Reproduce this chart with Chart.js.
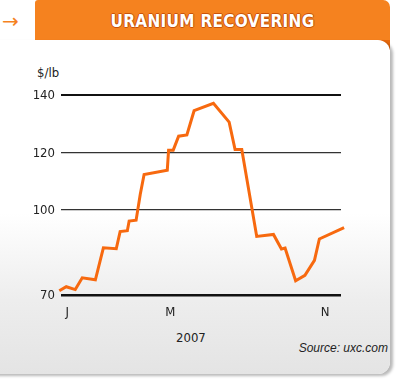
<!DOCTYPE html>
<html>
<head>
<meta charset="utf-8">
<script src="https://cdn.jsdelivr.net/npm/chart.js@4"></script>
<style>
  html, body { margin: 0; padding: 0; background: #fff; }
  #wrap { position: relative; width: 400px; height: 387px; overflow: hidden; }
  /* orange tab behind the panel */
  #tab {
    position: absolute; left: 35px; top: 0; width: 355px; height: 50px;
    background: #f5821f; border-radius: 3px 7px 0 0;
    box-shadow: inset 0 -10px 0 #e8690c;
  }
  #panel {
    position: absolute; left: -12px; top: 40px; width: 402px; height: 334px;
    border-radius: 0 12px 12px 0;
    background: linear-gradient(#ffffff 0%, #ffffff 52%, #ededed 78%, #e4e4e4 100%);
    box-shadow: 3px 2px 3px rgba(0,0,0,0.28);
  }
  #title {
    position: absolute; left: 35px; width: 355px; top: 11px; text-align: center;
    font: bold 17px "DejaVu Sans Condensed", "DejaVu Sans", sans-serif;
    color: #fff; letter-spacing: 0.3px;
    text-shadow: 1px 0 0 #c95209, -1px 0 0 #c95209, 0 1px 0 #c95209, 0 -1px 0 #c95209;
  }
  #arrow {
    position: absolute; left: 2px; top: 9px; color: #f5821f;
    font: 20px "DejaVu Sans", sans-serif;
  }
  .lbl { position: absolute; font: 13px "DejaVu Sans Condensed", "DejaVu Sans", sans-serif; color: #222; }
  #source {
    position: absolute; right: 12px; top: 341px;
    font: italic 12px "Liberation Sans", Arial, sans-serif; color: #222;
  }
  canvas { position: absolute; left: 0; top: 0; }
</style>
</head>
<body>
<div id="wrap">
  <div id="tab"></div>
  <div id="panel"></div>
  <div id="arrow">→</div>
  <div id="title">URANIUM RECOVERING</div>
  <div class="lbl" style="left:37px; top:65px;">$/lb</div>
  <div class="lbl" style="left:176px; top:330px;">2007</div>
  <div id="source">Source: uxc.com</div>
  <canvas id="chart" width="400" height="387"></canvas>
</div>
<script>
"use strict";

// data: x is the month (J = 1 ... N = 11), y is $/lb
const months = [0.69, 0.96, 1.31, 1.58, 2.09, 2.40, 2.90, 3.05, 3.33, 3.40, 3.67,
  3.83, 3.98, 4.88, 4.93, 5.11, 5.32, 5.64, 5.92, 6.67, 7.28, 7.51, 7.77,
  8.35, 9.00, 9.31, 9.45, 9.86, 10.22, 10.59, 10.78, 11.74];
const prices = [71.5, 72.9, 71.9, 76.0, 75.3, 86.5, 86.2, 92.2, 92.5, 95.9, 96.2,
  105.2, 112.2, 113.7, 120.7, 120.7, 125.6, 126.0, 134.5, 137.1, 130.5, 120.9, 120.9,
  90.5, 91.2, 86.1, 86.4, 75.0, 76.9, 82.1, 89.6, 93.6];

// axis ticks
const yTicks = [70, 100, 120, 140];
const xTicks = [1, 5, 11];
const xTickLabels = ["J", "M", "N"];

const tickFont = { family: "'DejaVu Sans Condensed', 'DejaVu Sans', sans-serif", size: 13 };

// pair months with prices for the line
const points = months.map((m, i) => ({ x: m, y: prices[i] }));

new Chart(document.getElementById("chart"), {
  type: "line",
  data: {
    datasets: [{
      data: points,
      borderColor: "#f7690f",
      borderWidth: 3,
      pointRadius: 0,
      tension: 0,
      clip: false
    }]
  },
  options: {
    responsive: false,
    animation: false,
    devicePixelRatio: 1,
    layout: { padding: { top: 95, right: 59, bottom: 52, left: 0 } },
    plugins: { legend: { display: false }, tooltip: { enabled: false } },
    scales: {
      x: {
        type: "linear",
        min: 0.756,
        max: 11.62,
        grid: { display: false, drawTicks: false },
        border: { display: false },
        afterBuildTicks: (axis) => { axis.ticks = xTicks.map(v => ({ value: v })); },
        afterFit: (axis) => { axis.height = 40; },
        ticks: {
          autoSkip: false,
          maxRotation: 0,
          padding: 10,
          color: "#222",
          font: tickFont,
          callback: (v) => xTickLabels[xTicks.indexOf(v)]
        }
      },
      y: {
        min: 70,
        max: 140,
        border: { display: false },
        grid: {
          drawTicks: false,
          color: (ctx) => (ctx.tick && (ctx.tick.value === 140 || ctx.tick.value === 70)) ? "#111" : "#333",
          lineWidth: (ctx) => {
            if (!ctx.tick) return 1;
            if (ctx.tick.value === 70) return 2.5;
            if (ctx.tick.value === 140) return 2;
            return 1.2;
          }
        },
        afterBuildTicks: (axis) => { axis.ticks = yTicks.map(v => ({ value: v })); },
        afterFit: (axis) => { axis.width = 61; },
        ticks: {
          padding: 6,
          labelOffset: 1,
          color: "#222",
          font: tickFont
        }
      }
    }
  }
});
</script>
</body>
</html>
